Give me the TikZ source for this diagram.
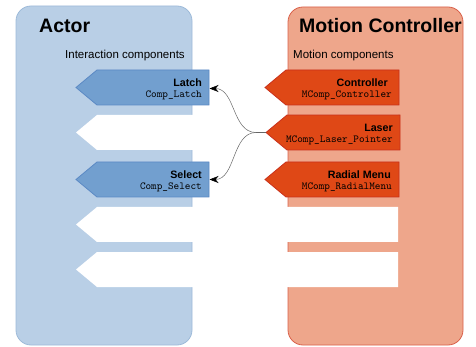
\documentclass[tikz,border=0pt]{standalone}
\usepackage{fontspec}
\setmainfont{Liberation Sans}
\usetikzlibrary{arrows.meta}
\definecolor{bluepanel}{HTML}{B9CFE6}
\definecolor{bluepanelline}{HTML}{9DBAD9}
\definecolor{bluearrow}{HTML}{729FCF}
\definecolor{bluearrowline}{HTML}{5B89C4}
\definecolor{orpanel}{HTML}{EEA68B}
\definecolor{orpanelline}{HTML}{D9604A}
\definecolor{ordark}{HTML}{DF4816}
\definecolor{ordarkline}{HTML}{C9301A}
\definecolor{conncol}{HTML}{666666}
\newcommand{\chevronshape}[5]{%
  \path[#1] (#2,{(#3+#5)/2}) -- (#2+21,#3) -- (#4,#3) -- (#4,#5) -- (#2+21,#5) -- cycle;}
\tikzset{
  panelA/.style={fill=bluepanel,draw=bluepanelline,line width=0.8pt,rounded corners=15pt},
  panelB/.style={fill=orpanel,draw=orpanelline,line width=0.8pt,rounded corners=15pt},
  bluechev/.style={fill=bluearrow,draw=bluearrowline,line width=0.8pt},
  orchev/.style={fill=ordark,draw=ordarkline,line width=0.8pt},
  whitechev/.style={fill=white},
  title/.style={font=\fontsize{19.5}{22}\selectfont\bfseries,anchor=base west,inner sep=0pt},
  subtitle/.style={font=\fontsize{11.5}{13}\selectfont,anchor=base west,inner sep=0pt},
  lbl/.style={font=\fontsize{10.7}{12}\selectfont\bfseries,anchor=base east,inner sep=0pt},
  code/.style={font=\fontsize{10.7}{12}\selectfont\ttfamily,anchor=base east,inner sep=0pt},
  conn/.style={draw=conncol,line width=0.5pt,-{Stealth[length=9pt,width=7pt,black]}}
}
\begin{document}
\begin{tikzpicture}[x=1pt,y=-1pt]
\useasboundingbox (0,0) rectangle (476,347);
% panels
\path[panelA] (16,6) rectangle (192,345);
\path[panelB] (288,7) rectangle (463,345);
\node[title] (actorT) at (39,33) {Actor};
\node[subtitle] (actorS) at (65,59) {Interaction components};
\node[title] (mcT) at (299,33) {Motion Controller};
\node[subtitle] (mcS) at (293,59) {Motion components};
% white placeholder chevrons
\chevronshape{whitechev}{76}{115}{398}{150}
\chevronshape{whitechev}{76}{207}{398}{242}
\chevronshape{whitechev}{76}{252}{398}{287}
% blue chevrons
\chevronshape{bluechev}{76}{70}{209}{105}
\chevronshape{bluechev}{76}{162}{209}{197}
% orange chevrons
\chevronshape{orchev}{265}{70}{399}{105}
\chevronshape{orchev}{266}{115}{400}{150}
\chevronshape{orchev}{265}{162}{399}{197}
% labels
\node[lbl] (latch) at (202,87) {Latch};
\node[code] (latchC) at (202,97.5) {Comp\_Latch};
\node[lbl] (select) at (202,179) {Select};
\node[code] (selectC) at (202,189.5) {Comp\_Select};
\node[lbl] (ctrl) at (388,87) {Controller};
\node[code] (ctrlC) at (392,97.5) {MComp\_Controller};
\node[lbl] (laser) at (393,132) {Laser};
\node[code] (laserC) at (393,142.5) {MComp\_Laser\_Pointer};
\node[lbl] (radial) at (391,179) {Radial Menu};
\node[code] (radialC) at (392,189.5) {MComp\_RadialMenu};
% connectors
\coordinate (laserTip) at (266,132.5);
\coordinate (laserSplit) at (256,132.5);
\coordinate (latchR) at (209.5,88.5);
\coordinate (selectR) at (209.5,179.5);
\draw[draw=conncol,line width=0.5pt] (laserTip) -- (laserSplit);
\draw[conn] (laserSplit) .. controls +(-24,0) and +(26,0) .. (latchR);
\draw[conn] (laserSplit) .. controls +(-24,0) and +(26,0) .. (selectR);
\end{tikzpicture}
\end{document}
